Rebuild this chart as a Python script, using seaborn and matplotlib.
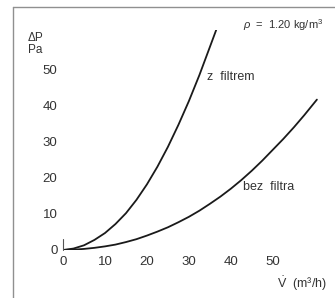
import numpy as np
import pandas as pd
import matplotlib
matplotlib.use("Agg")
import matplotlib.pyplot as plt
import seaborn as sns
from matplotlib.lines import Line2D

# values
v_filtr = [0, 2.5, 5, 7.5, 10, 12.5, 15, 17.5, 20, 22.5, 25, 27.5, 30, 32.5, 35, 36.5]
dp_filtr = [0, 0.4, 1.3, 2.8, 4.7, 7.2, 10.2, 13.9, 18.2, 23.1, 28.6, 34.7, 41.3, 48.5, 56.3, 61]
v_bez = [0, 2.5, 5, 7.5, 10, 12.5, 15, 17.5, 20, 22.5, 25, 27.5, 30, 32.5, 35, 37.5,
         40, 42.5, 45, 47.5, 50, 52.5, 55, 57.5, 60.5]
dp_bez = [0, 0.1, 0.3, 0.6, 1.0, 1.5, 2.2, 3.0, 4.0, 5.1, 6.3, 7.7, 9.2, 10.9, 12.8, 14.8,
          17.0, 19.4, 22.0, 24.8, 27.8, 30.8, 34.0, 37.4, 41.7]
x_ticks = [0, 10, 20, 30, 40, 50]
y_ticks = [0, 10, 20, 30, 40, 50]

sns.set_style("white")
plt.rcParams['font.family'] = ['Liberation Sans', 'DejaVu Sans']
plt.rcParams['mathtext.fontset'] = 'custom'
plt.rcParams['mathtext.rm'] = 'Liberation Sans'
plt.rcParams['mathtext.it'] = 'Liberation Sans:italic'

fig = plt.figure(figsize=(3.35, 2.98), dpi=100)
ax = fig.add_axes([63 / 335, 48 / 298, 256 / 335, 220 / 298])

df_z = pd.DataFrame({"V": v_filtr, "dP": dp_filtr})
df_b = pd.DataFrame({"V": v_bez, "dP": dp_bez})
sns.lineplot(data=df_z, x="V", y="dP", ax=ax, color="#1a1a1a", lw=1.3, sort=False)
sns.lineplot(data=df_b, x="V", y="dP", ax=ax, color="#1a1a1a", lw=1.3, sort=False)

ax.set_xlim(0, 61)
ax.set_ylim(0, 61)
ax.set_xticks(x_ticks)
ax.set_yticks(y_ticks)
ax.tick_params(length=0, labelsize=9.5, colors="#333333", pad=4)
ax.set_xlabel("")
ax.set_ylabel("")
for s in ax.spines.values():
    s.set_visible(False)
ax.patch.set_alpha(0)

# small tick stroke at origin
ax.plot([0, 0], [0, 3], color="#555555", lw=0.8, clip_on=False)

# labels
fig.text(28 / 335, 1 - 38 / 298, "ΔP", fontsize=8.5, color="#333333", va="center")
fig.text(28 / 335, 1 - 50 / 298, "Pa", fontsize=8.5, color="#333333", va="center")
ax.text(34.3, 48, "z  filtrem", fontsize=9, color="#333333", ha="left", va="center")
ax.text(43, 17.5, "bez  filtra", fontsize=9, color="#333333", ha="left", va="center")
fig.text(302 / 335, 1 - 284 / 298, r"$\dot{\mathrm{V}}$  (m³/h)", fontsize=9,
         color="#333333", ha="center", va="center")
fig.text(243 / 335, 1 - 25 / 298, r"$\it{\rho}$  =  1.20 kg/m$^3$", fontsize=8,
         color="#333333", ha="left", va="center")

# grey frame at left and top
fig.add_artist(Line2D([13 / 335, 13 / 335], [0, 1 - 7 / 298], color="#909090", lw=1))
fig.add_artist(Line2D([13 / 335, 1], [1 - 7 / 298, 1 - 7 / 298], color="#909090", lw=1))

fig.savefig("out.png", dpi=100)
